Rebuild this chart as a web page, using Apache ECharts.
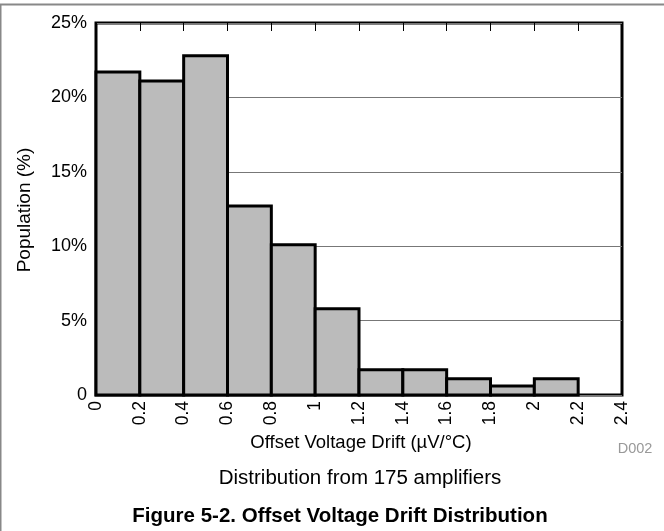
<!DOCTYPE html>
<html>
<head>
<meta charset="utf-8">
<script src="https://cdn.jsdelivr.net/npm/echarts@6/dist/echarts.min.js"></script>
<style>
html,body{margin:0;padding:0;background:#fff;}
#c{width:664px;height:531px;}
</style>
</head>
<body>
<div id="c"></div>
<script>
// Histogram bins (offset voltage drift, µV/°C) and population (%)
var binStarts = [0, 0.2, 0.4, 0.6, 0.8, 1.0, 1.2, 1.4, 1.6, 1.8, 2.0];
var binWidth = 0.2;
var population = [21.7, 21.1, 22.8, 12.7, 10.1, 5.8, 1.7, 1.7, 1.1, 0.6, 1.1];
var xTicks = ['0','0.2','0.4','0.6','0.8','1','1.2','1.4','1.6','1.8','2','2.2','2.4'];
var yTicks = ['0','5%','10%','15%','20%','25%'];

var FONT = 'Liberation Sans, Arial, sans-serif';
var data = binStarts.map(function (s, i) { return [s, s + binWidth, population[i]]; });

var chart = echarts.init(document.getElementById('c'), null, {renderer: 'canvas'});
chart.setOption({
  animation: false,
  backgroundColor: '#fff',
  grid: {left: 96, right: 42, top: 23, bottom: 136, show: true, borderColor: '#000', borderWidth: 3, backgroundColor: 'transparent'},
  xAxis: [{
    type: 'value', min: 0, max: 2.4, interval: 0.2, position: 'bottom',
    axisLine: {show: false}, axisTick: {show: false}, splitLine: {show: false},
    axisLabel: {
      rotate: 90, margin: 6, color: '#000', fontSize: 17.5, fontFamily: FONT,
      formatter: function (v) { return xTicks[Math.round(v / 0.2)]; }
    }
  }, {
    type: 'value', min: 0, max: 2.4, interval: 0.2, position: 'top',
    axisLine: {show: false}, splitLine: {show: false}, axisLabel: {show: false},
    axisTick: {show: true, inside: true, length: 8, lineStyle: {color: '#000', width: 1}}
  }],
  yAxis: {
    type: 'value', min: 0, max: 25, interval: 5,
    axisLine: {show: false}, axisTick: {show: false},
    splitLine: {show: true, lineStyle: {color: '#777', width: 1}},
    axisLabel: {
      margin: 9, color: '#000', fontSize: 18, fontFamily: FONT,
      formatter: function (v) { return yTicks[Math.round(v / 5)]; }
    }
  },
  series: [{
    type: 'custom',
    data: data,
    renderItem: function (params, api) {
      var p0 = api.coord([api.value(0), api.value(2)]);
      var p1 = api.coord([api.value(1), 0]);
      return {
        type: 'rect',
        shape: {x: p0[0], y: p0[1], width: p1[0] - p0[0], height: p1[1] - p0[1]},
        style: {fill: '#bbbbbb', stroke: '#000', lineWidth: 3}
      };
    },
    encode: {x: [0, 1], y: 2},
    z: 3
  }],
  graphic: [
    {type: 'line', shape: {x1: 0, y1: 4.5, x2: 664, y2: 4.5}, style: {stroke: '#888', lineWidth: 2}},
    {type: 'line', shape: {x1: 0.5, y1: 4, x2: 0.5, y2: 531}, style: {stroke: '#888', lineWidth: 2}},
    {type: 'text', rotation: Math.PI / 2, x: 25, y: 210,
      style: {text: 'Population (%)', fill: '#000', font: '19px ' + FONT, align: 'center', verticalAlign: 'middle'}},
    {type: 'text', x: 361, y: 443,
      style: {text: 'Offset Voltage Drift (\u00b5V/\u00b0C)', fill: '#000', font: '18.5px ' + FONT, align: 'center', verticalAlign: 'middle'}},
    {type: 'text', x: 635, y: 449,
      style: {text: 'D002', fill: '#999', font: '14.5px ' + FONT, align: 'center', verticalAlign: 'middle'}},
    {type: 'text', x: 360, y: 478,
      style: {text: 'Distribution from 175 amplifiers', fill: '#000', font: '20.5px ' + FONT, align: 'center', verticalAlign: 'middle'}},
    {type: 'text', x: 340, y: 516,
      style: {text: 'Figure 5-2. Offset Voltage Drift Distribution', fill: '#000', font: 'bold 20.5px ' + FONT, align: 'center', verticalAlign: 'middle'}}
  ]
});
</script>
</body>
</html>
